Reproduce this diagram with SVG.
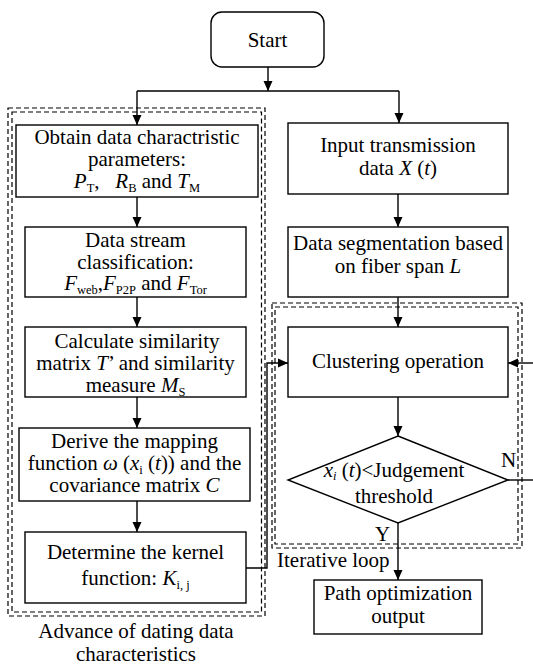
<svg xmlns="http://www.w3.org/2000/svg" width="533" height="665" viewBox="0 0 533 665">
<defs>
<marker id="arr" markerWidth="10" markerHeight="12" refX="10" refY="6" orient="auto" markerUnits="userSpaceOnUse">
<path d="M0,1.5 L10,6 L0,10.5 Z" fill="#000"/>
</marker>
<style>
.box{fill:#fff;stroke:#000;stroke-width:1.4}
.dash{fill:none;stroke:#000;stroke-width:1.2;stroke-dasharray:5,3}
.ln{fill:none;stroke:#000;stroke-width:1.4}
.a{fill:none;stroke:#000;stroke-width:1.4;marker-end:url(#arr)}
text{font-family:"Liberation Serif","Times New Roman",serif;font-size:21px;fill:#000}
.c{text-anchor:middle}
.i{font-style:italic}
.s{font-size:12.5px}
</style>
</defs>
<rect width="533" height="665" fill="#fff"/>
<g id="groups">
<rect class="dash" x="8" y="108" width="257" height="508"/>
<rect class="dash" x="12" y="112" width="249.5" height="500"/>
<rect class="dash" x="272" y="303" width="250" height="245"/>
<rect class="dash" x="275" y="307" width="243" height="237"/>
</g>
<g id="connectors">
<path class="a" d="M268,67 V91"/>
<path class="ln" d="M137,91 H399"/>
<path class="a" d="M137,91 V125"/>
<path class="a" d="M399,91 V123"/>
<path class="a" d="M137,197 V227"/>
<path class="a" d="M137,297 V327"/>
<path class="a" d="M137,397 V428"/>
<path class="a" d="M137,501 V532"/>
<path class="a" d="M398,194 V227"/>
<path class="a" d="M398,297 V327"/>
<path class="a" d="M398,397 V436"/>
<path class="a" d="M398,523 V580"/>
<path class="a" d="M246,568 H267 V363 H288"/>
<path class="ln" d="M508,480 H540"/>
<path class="a" d="M540,363 H508"/>
</g>
<g id="start">
<rect class="box" x="211" y="12" width="113" height="55" rx="11"/>
<text class="c" x="267.5" y="47">Start</text>
</g>
<g id="obtain">
<rect class="box" x="16" y="125" width="242" height="72"/>
<text class="c" x="137" y="144">Obtain data charactristic</text>
<text class="c" x="137" y="166">parameters:</text>
<text class="c" x="137" y="188"><tspan class="i">P</tspan><tspan class="s" dy="4">T</tspan><tspan dy="-4">,&#160;&#160; </tspan><tspan class="i">R</tspan><tspan class="s" dy="4">B</tspan><tspan dy="-4"> and </tspan><tspan class="i">T</tspan><tspan class="s" dy="4">M</tspan></text>
</g>
<g id="classify">
<rect class="box" x="25" y="227" width="221" height="70"/>
<text class="c" x="135.5" y="247">Data stream</text>
<text class="c" x="135.5" y="269">classification:</text>
<text class="c" x="135.5" y="290"><tspan class="i">F</tspan><tspan class="s" dy="4">web</tspan><tspan dy="-4">,</tspan><tspan class="i">F</tspan><tspan class="s" dy="4">P2P</tspan><tspan dy="-4"> and </tspan><tspan class="i">F</tspan><tspan class="s" dy="4">Tor</tspan></text>
</g>
<g id="similarity">
<rect class="box" x="25" y="327" width="221" height="70"/>
<text class="c" x="137" y="348">Calculate similarity</text>
<text class="c" x="135.5" y="370">matrix <tspan class="i">T</tspan>’ and similarity</text>
<text class="c" x="135.5" y="392">measure <tspan class="i">M</tspan><tspan class="s" dy="4">S</tspan></text>
</g>
<g id="mapping">
<rect class="box" x="19" y="428" width="231" height="73"/>
<text class="c" x="134.5" y="448">Derive the mapping</text>
<text class="c" x="134.5" y="470">function <tspan class="i">ω</tspan> (<tspan class="i">x</tspan><tspan class="s" dy="4">i</tspan><tspan dy="-4"> (</tspan><tspan class="i">t</tspan>)) and the</text>
<text class="c" x="134.5" y="492">covariance matrix <tspan class="i">C</tspan></text>
</g>
<g id="kernel">
<rect class="box" x="25" y="532" width="221" height="71"/>
<text class="c" x="135.5" y="559">Determine the kernel</text>
<text class="c" x="135.5" y="585">function: <tspan class="i">K</tspan><tspan class="s" dy="4">i, j</tspan></text>
</g>
<g id="input">
<rect class="box" x="288" y="123" width="220" height="71"/>
<text class="c" x="398" y="152">Input transmission</text>
<text class="c" x="398" y="175">data <tspan class="i">X</tspan> (<tspan class="i">t</tspan>)</text>
</g>
<g id="segment">
<rect class="box" x="288" y="227" width="220" height="70"/>
<text class="c" x="398" y="250">Data segmentation based</text>
<text class="c" x="398" y="273">on fiber span <tspan class="i">L</tspan></text>
</g>
<g id="clustering">
<rect class="box" x="288" y="327" width="220" height="70"/>
<text class="c" x="398" y="368">Clustering operation</text>
</g>
<g id="judge">
<path class="box" d="M398,436 L508,480 L398,523 L288,480 Z"/>
<text class="c" x="394" y="477"><tspan class="i">x</tspan><tspan class="s i" dy="3">i</tspan><tspan dy="-3"> (</tspan><tspan class="i">t</tspan>)&lt;Judgement</text>
<text class="c" x="394" y="503">threshold</text>
<text x="501" y="467">N</text>
<text x="375" y="541">Y</text>
</g>
<g id="path-output">
<rect class="box" x="314" y="580" width="168" height="54"/>
<text class="c" x="398" y="600">Path optimization</text>
<text class="c" x="398" y="623">output</text>
</g>
<g id="labels">
<text x="277" y="567">Iterative loop</text>
<text class="c" x="136" y="638">Advance of dating data</text>
<text class="c" x="136" y="661">characteristics</text>
</g>
</svg>
